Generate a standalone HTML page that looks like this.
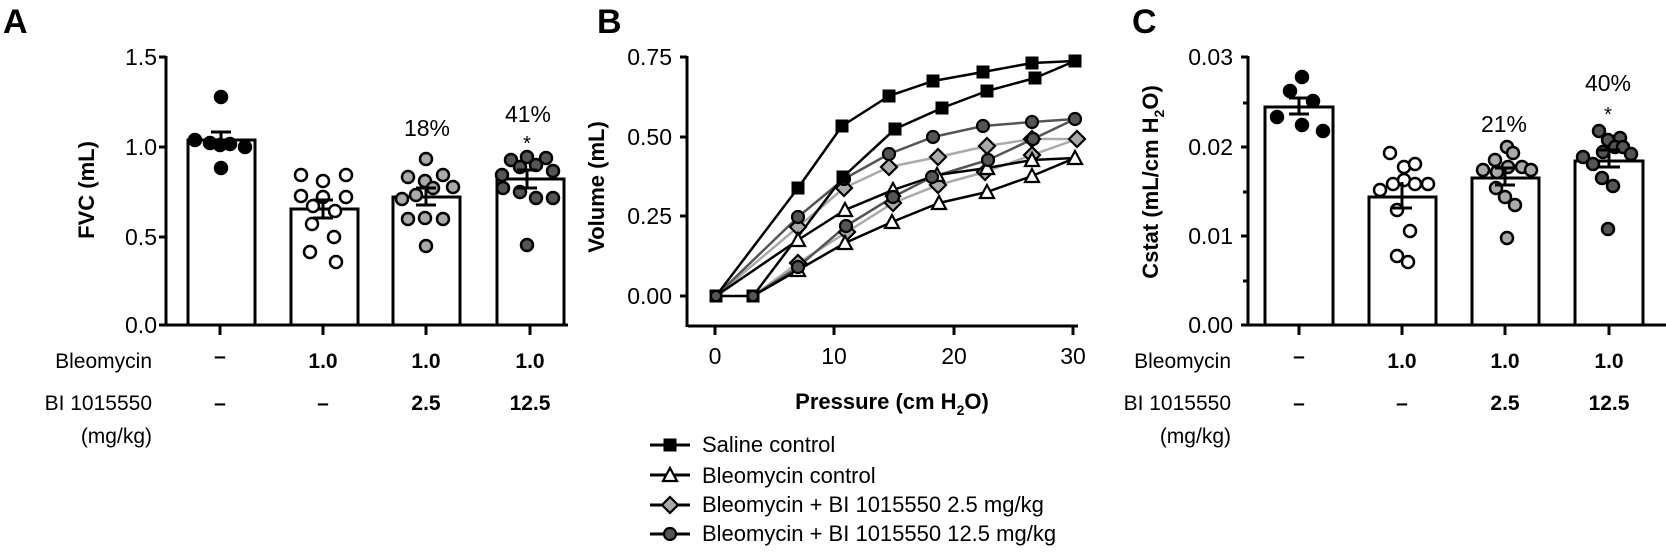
<!DOCTYPE html>
<html><head><meta charset="utf-8"><style>
html,body{margin:0;padding:0;background:#fff;}
svg{display:block;font-family:"Liberation Sans",Arial,sans-serif;}
</style></head><body>
<svg width="1666" height="553" viewBox="0 0 1666 553" xmlns="http://www.w3.org/2000/svg">
<defs>
<circle id="dB" r="6" fill="#000" stroke="#000" stroke-width="2.5"/>
<circle id="dO" r="6" fill="#fff" stroke="#000" stroke-width="2.5"/>
<circle id="dL" r="6" fill="#aaa" stroke="#000" stroke-width="2.5"/>
<circle id="dD" r="6" fill="#555" stroke="#000" stroke-width="2.5"/>
<rect id="mS" x="-6.5" y="-6.5" width="13" height="13" fill="#000"/>
<path id="mT" d="M0,-7 L7,6 L-7,6 Z" fill="#fff" stroke="#000" stroke-width="2.2"/>
<path id="mDi" d="M0,-8 L8,0 L0,8 L-8,0 Z" fill="#aaa" stroke="#000" stroke-width="2.2"/>
<circle id="mC" r="6" fill="#555" stroke="#000" stroke-width="2.2"/>
</defs>

<!-- ================= PANEL A ================= -->
<text x="3" y="33" font-size="34" font-weight="bold">A</text>
<g stroke="#000" stroke-width="3" fill="none">
<line x1="166" y1="56" x2="166" y2="326"/>
<line x1="159" y1="57" x2="166" y2="57"/>
<line x1="159" y1="147" x2="166" y2="147"/>
<line x1="159" y1="237" x2="166" y2="237"/>
<line x1="159" y1="325" x2="568" y2="325"/>
<line x1="220" y1="325" x2="220" y2="335"/>
<line x1="323" y1="325" x2="323" y2="335"/>
<line x1="426" y1="325" x2="426" y2="335"/>
<line x1="530" y1="325" x2="530" y2="335"/>
<rect x="188" y="140" width="67" height="185" fill="#fff"/>
<rect x="291" y="209" width="67" height="116" fill="#fff"/>
<rect x="393" y="197" width="67" height="128" fill="#fff"/>
<rect x="497" y="179" width="67" height="146" fill="#fff"/>
</g>
<g font-size="23" text-anchor="end">
<text x="157" y="65">1.5</text>
<text x="157" y="155">1.0</text>
<text x="157" y="245">0.5</text>
<text x="157" y="333">0.0</text>
</g>
<text transform="translate(94,190) rotate(-90)" font-size="22" font-weight="bold" text-anchor="middle">FVC (mL)</text>
<g>
<use href="#dB" x="221" y="97"/><use href="#dB" x="195" y="140"/><use href="#dB" x="210" y="143"/><use href="#dB" x="220" y="145"/><use href="#dB" x="230" y="144"/><use href="#dB" x="245" y="147"/><use href="#dB" x="221" y="168"/>
<use href="#dO" x="301" y="175"/><use href="#dO" x="323" y="181"/><use href="#dO" x="346" y="175"/><use href="#dO" x="301" y="196"/><use href="#dO" x="323" y="197"/><use href="#dO" x="346" y="197"/><use href="#dO" x="313" y="206"/><use href="#dO" x="335" y="211"/><use href="#dO" x="312" y="224"/><use href="#dO" x="334" y="237"/><use href="#dO" x="310" y="252"/><use href="#dO" x="336" y="262"/>
<use href="#dL" x="426" y="159"/><use href="#dL" x="408" y="177"/><use href="#dL" x="425" y="181"/><use href="#dL" x="443" y="175"/><use href="#dL" x="453" y="187"/><use href="#dL" x="402" y="199"/><use href="#dL" x="416" y="195"/><use href="#dL" x="433" y="188"/><use href="#dL" x="408" y="219"/><use href="#dL" x="425" y="218"/><use href="#dL" x="443" y="219"/><use href="#dL" x="426" y="246"/>
<use href="#dD" x="511" y="160"/><use href="#dD" x="527" y="157"/><use href="#dD" x="546" y="158"/><use href="#dD" x="502" y="175"/><use href="#dD" x="520" y="167"/><use href="#dD" x="536" y="165"/><use href="#dD" x="553" y="171"/><use href="#dD" x="503" y="188"/><use href="#dD" x="520" y="192"/><use href="#dD" x="536" y="198"/><use href="#dD" x="553" y="198"/><use href="#dD" x="527" y="245"/>
</g>
<g stroke="#000" stroke-width="3">
<line x1="221" y1="132" x2="221" y2="148"/><line x1="211" y1="132" x2="231" y2="132"/>
<line x1="323" y1="200" x2="323" y2="218"/><line x1="313" y1="200" x2="333" y2="200"/><line x1="313" y1="218" x2="333" y2="218"/>
<line x1="426" y1="188" x2="426" y2="205"/><line x1="416" y1="188" x2="436" y2="188"/><line x1="416" y1="205" x2="436" y2="205"/>
<line x1="527" y1="170" x2="527" y2="188"/><line x1="517" y1="170" x2="537" y2="170"/><line x1="517" y1="188" x2="537" y2="188"/>
</g>
<g font-size="23" text-anchor="middle">
<text x="427" y="136">18%</text>
<text x="528" y="122">41%</text>
<text x="527" y="150" font-size="20">*</text>
</g>
<g font-size="21" text-anchor="end">
<text x="152" y="368">Bleomycin</text>
<text x="152" y="410">BI 1015550</text>
<text x="152" y="443">(mg/kg)</text>
</g>
<g font-size="21" font-weight="bold" text-anchor="middle">
<text x="220" y="363">–</text><text x="323" y="368">1.0</text><text x="426" y="368">1.0</text><text x="530" y="368">1.0</text>
<text x="220" y="410">–</text><text x="323" y="410">–</text><text x="426" y="410">2.5</text><text x="530" y="410">12.5</text>
</g>

<!-- ================= PANEL B ================= -->
<text x="597" y="33" font-size="34" font-weight="bold">B</text>
<g stroke="#000" stroke-width="3" fill="none">
<line x1="687" y1="56" x2="687" y2="327"/>
<line x1="680" y1="57" x2="687" y2="57"/>
<line x1="680" y1="137" x2="687" y2="137"/>
<line x1="680" y1="216" x2="687" y2="216"/>
<line x1="680" y1="296" x2="687" y2="296"/>
<line x1="688" y1="326" x2="1078" y2="326"/>
<line x1="715" y1="326" x2="715" y2="335"/>
<line x1="834" y1="326" x2="834" y2="335"/>
<line x1="954" y1="326" x2="954" y2="335"/>
<line x1="1073" y1="326" x2="1073" y2="335"/>
</g>
<g font-size="23" text-anchor="end">
<text x="672" y="65">0.75</text>
<text x="672" y="145">0.50</text>
<text x="672" y="224">0.25</text>
<text x="672" y="304">0.00</text>
</g>
<g font-size="23" text-anchor="middle">
<text x="715" y="364">0</text><text x="834" y="364">10</text><text x="954" y="364">20</text><text x="1073" y="364">30</text>
</g>
<text transform="translate(604,187) rotate(-90)" font-size="22" font-weight="bold" text-anchor="middle">Volume (mL)</text>
<text x="892" y="409" font-size="22" font-weight="bold" text-anchor="middle">Pressure (cm H<tspan font-size="14" dy="6">2</tspan><tspan dy="-6">O)</tspan></text>

<g fill="none" stroke-width="2.5" stroke-linejoin="round">
<polyline stroke="#aaa" points="716,296 798,227 844,188 889,167 938,157 987,146 1032,139 1077,139"/>
<polyline stroke="#aaa" points="753,296 798,263 847,232 893,203 938,185 985,172 1032,155 1077,139"/>
<polyline stroke="#555" points="716,296 798,217 844,179 889,154 933,137 983,126 1032,122 1075,119"/>
<polyline stroke="#555" points="753,296 798,267 846,226 893,197 932,177 988,160 1033,139 1075,119"/>
<polyline stroke="#000" points="716,296 798,240 845,210 893,190 937,175 987,168 1032,160 1075,158"/>
<polyline stroke="#000" points="753,296 798,270 845,243 892,222 939,203 987,192 1032,176 1075,158"/>
<polyline stroke="#000" points="716,296 798,188 842,126 889,96 933,81 983,72 1032,63 1075,61"/>
<polyline stroke="#000" points="716,296 753,296 843,177 895,129 942,108 987,91 1035,78 1075,61"/>
</g>
<g>
<use href="#mDi" x="798" y="227"/><use href="#mDi" x="844" y="188"/><use href="#mDi" x="889" y="167"/><use href="#mDi" x="938" y="157"/><use href="#mDi" x="987" y="146"/><use href="#mDi" x="1032" y="139"/><use href="#mDi" x="1077" y="139"/>
<use href="#mDi" x="798" y="263"/><use href="#mDi" x="847" y="232"/><use href="#mDi" x="893" y="203"/><use href="#mDi" x="938" y="185"/><use href="#mDi" x="985" y="172"/><use href="#mDi" x="1032" y="155"/>
<use href="#mT" x="798" y="240"/><use href="#mT" x="845" y="210"/><use href="#mT" x="893" y="190"/><use href="#mT" x="937" y="175"/><use href="#mT" x="987" y="168"/><use href="#mT" x="1032" y="160"/><use href="#mT" x="1075" y="158"/>
<use href="#mT" x="798" y="270"/><use href="#mT" x="845" y="243"/><use href="#mT" x="892" y="222"/><use href="#mT" x="939" y="203"/><use href="#mT" x="987" y="192"/><use href="#mT" x="1032" y="176"/>
<use href="#mC" x="798" y="217"/><use href="#mC" x="844" y="179"/><use href="#mC" x="889" y="154"/><use href="#mC" x="933" y="137"/><use href="#mC" x="983" y="126"/><use href="#mC" x="1032" y="122"/><use href="#mC" x="1075" y="119"/>
<use href="#mC" x="798" y="267"/><use href="#mC" x="846" y="226"/><use href="#mC" x="893" y="197"/><use href="#mC" x="932" y="177"/><use href="#mC" x="988" y="160"/><use href="#mC" x="1033" y="139"/>
<use href="#mS" x="716" y="296"/><use href="#mS" x="753" y="296"/>
<use href="#mS" x="798" y="188"/><use href="#mS" x="842" y="126"/><use href="#mS" x="889" y="96"/><use href="#mS" x="933" y="81"/><use href="#mS" x="983" y="72"/><use href="#mS" x="1032" y="63"/><use href="#mS" x="1075" y="61"/>
<use href="#mS" x="843" y="177"/><use href="#mS" x="895" y="129"/><use href="#mS" x="942" y="108"/><use href="#mS" x="987" y="91"/><use href="#mS" x="1035" y="78"/>
<circle cx="716" cy="296" r="4" fill="#555"/><circle cx="753" cy="296" r="4" fill="#555"/>
</g>
<g stroke="#000" stroke-width="3">
<line x1="650" y1="445" x2="690" y2="445"/>
<line x1="650" y1="475" x2="690" y2="475"/>
<line x1="650" y1="505" x2="690" y2="505"/>
<line x1="650" y1="534" x2="690" y2="534"/>
</g>
<use href="#mS" x="670" y="445"/><use href="#mT" x="670" y="475"/><use href="#mDi" x="670" y="505"/><use href="#mC" x="670" y="534"/>
<g font-size="22">
<text x="702" y="452">Saline control</text>
<text x="702" y="483">Bleomycin control</text>
<text x="702" y="512">Bleomycin + BI 1015550 2.5 mg/kg</text>
<text x="702" y="541">Bleomycin + BI 1015550 12.5 mg/kg</text>
</g>

<!-- ================= PANEL C ================= -->
<text x="1132" y="33" font-size="34" font-weight="bold">C</text>
<g stroke="#000" stroke-width="3" fill="none">
<line x1="1248" y1="56" x2="1248" y2="326"/>
<line x1="1241" y1="57" x2="1248" y2="57"/>
<line x1="1243" y1="103" x2="1248" y2="103"/>
<line x1="1241" y1="147" x2="1248" y2="147"/>
<line x1="1243" y1="192" x2="1248" y2="192"/>
<line x1="1241" y1="236" x2="1248" y2="236"/>
<line x1="1243" y1="281" x2="1248" y2="281"/>
<line x1="1241" y1="325" x2="1666" y2="325"/>
<line x1="1299" y1="325" x2="1299" y2="335"/>
<line x1="1402" y1="325" x2="1402" y2="335"/>
<line x1="1505" y1="325" x2="1505" y2="335"/>
<line x1="1609" y1="325" x2="1609" y2="335"/>
<rect x="1265" y="107" width="68" height="218" fill="#fff"/>
<rect x="1369" y="197" width="67" height="128" fill="#fff"/>
<rect x="1472" y="178" width="67" height="147" fill="#fff"/>
<rect x="1575" y="161" width="68" height="164" fill="#fff"/>
</g>
<g font-size="23" text-anchor="end">
<text x="1233" y="65">0.03</text>
<text x="1233" y="155">0.02</text>
<text x="1233" y="244">0.01</text>
<text x="1233" y="333">0.00</text>
</g>
<text transform="translate(1158,182) rotate(-90)" font-size="22" font-weight="bold" text-anchor="middle">Cstat (mL/cm H<tspan font-size="14" dy="6">2</tspan><tspan dy="-6">O)</tspan></text>
<g>
<use href="#dB" x="1302" y="77"/><use href="#dB" x="1290" y="91"/><use href="#dB" x="1313" y="101"/><use href="#dB" x="1277" y="117"/><use href="#dB" x="1302" y="125"/><use href="#dB" x="1323" y="131"/>
<use href="#dO" x="1390" y="153"/><use href="#dO" x="1404" y="167"/><use href="#dO" x="1415" y="164"/><use href="#dO" x="1380" y="190"/><use href="#dO" x="1393" y="184"/><use href="#dO" x="1404" y="180"/><use href="#dO" x="1415" y="184"/><use href="#dO" x="1428" y="184"/><use href="#dO" x="1397" y="210"/><use href="#dO" x="1410" y="231"/><use href="#dO" x="1397" y="256"/><use href="#dO" x="1408" y="262"/>
<use href="#dL" x="1507" y="147"/><use href="#dL" x="1513" y="153"/><use href="#dL" x="1495" y="160"/><use href="#dL" x="1483" y="170"/><use href="#dL" x="1497" y="172"/><use href="#dL" x="1508" y="167"/><use href="#dL" x="1522" y="167"/><use href="#dL" x="1531" y="170"/><use href="#dL" x="1496" y="188"/><use href="#dL" x="1505" y="197"/><use href="#dL" x="1515" y="205"/><use href="#dL" x="1507" y="238"/>
<use href="#dD" x="1599" y="131"/><use href="#dD" x="1608" y="140"/><use href="#dD" x="1620" y="138"/><use href="#dD" x="1615" y="147"/><use href="#dD" x="1623" y="147"/><use href="#dD" x="1631" y="154"/><use href="#dD" x="1603" y="152"/><use href="#dD" x="1583" y="157"/><use href="#dD" x="1593" y="164"/><use href="#dD" x="1602" y="178"/><use href="#dD" x="1613" y="186"/><use href="#dD" x="1608" y="229"/>
</g>
<g stroke="#000" stroke-width="3">
<line x1="1299" y1="98" x2="1299" y2="114"/><line x1="1289" y1="98" x2="1309" y2="98"/><line x1="1289" y1="114" x2="1309" y2="114"/>
<line x1="1402" y1="182" x2="1402" y2="208"/><line x1="1392" y1="208" x2="1412" y2="208"/>
<line x1="1505" y1="168" x2="1505" y2="185"/><line x1="1495" y1="168" x2="1515" y2="168"/><line x1="1495" y1="185" x2="1515" y2="185"/>
<line x1="1609" y1="150" x2="1609" y2="167"/><line x1="1598" y1="150" x2="1620" y2="150"/><line x1="1598" y1="167" x2="1620" y2="167"/>
</g>
<g font-size="23" text-anchor="middle">
<text x="1504" y="132">21%</text>
<text x="1608" y="91">40%</text>
<text x="1608" y="121" font-size="20">*</text>
</g>
<g font-size="21" text-anchor="end">
<text x="1231" y="368">Bleomycin</text>
<text x="1231" y="410">BI 1015550</text>
<text x="1231" y="443">(mg/kg)</text>
</g>
<g font-size="21" font-weight="bold" text-anchor="middle">
<text x="1299" y="363">–</text><text x="1402" y="368">1.0</text><text x="1505" y="368">1.0</text><text x="1609" y="368">1.0</text>
<text x="1299" y="410">–</text><text x="1402" y="410">–</text><text x="1505" y="410">2.5</text><text x="1609" y="410">12.5</text>
</g>
</svg>
</body></html>
